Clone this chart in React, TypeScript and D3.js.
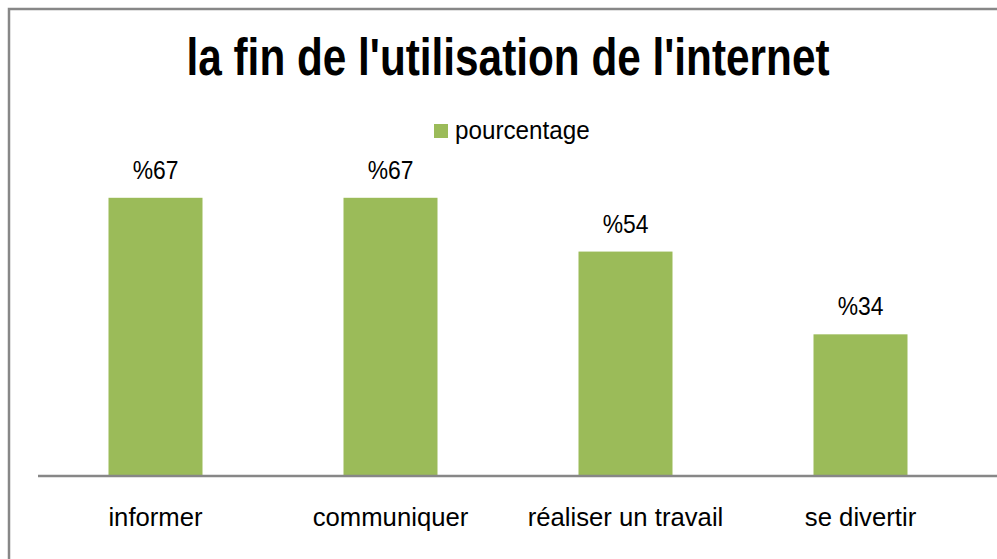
import { useEffect, useRef } from "react";
import * as d3 from "d3";

const categories = ["informer", "communiquer", "réaliser un travail", "se divertir"];
const values = [67, 67, 54, 34];
const valueLabels = ["%67", "%67", "%54", "%34"];
const seriesName = "pourcentage";

const width = 997;
const height = 559;
const green = "#9bbb59";
const font = "'Liberation Sans', Arial, sans-serif";

const App = () => {
  const ref = useRef<SVGSVGElement>(null);

  useEffect(() => {
    document.body.style.margin = "0";
    const svg = d3.select(ref.current);
    svg.selectAll("*").remove();

    // chart frame (runs off the right and bottom edge)
    svg
      .append("rect")
      .attr("x", 9)
      .attr("y", 9)
      .attr("width", width + 20)
      .attr("height", height + 20)
      .attr("fill", "white")
      .attr("stroke", "#878787")
      .attr("stroke-width", 2.5);

    // the original uses a narrow font, so squeeze the text sideways
    svg
      .append("text")
      .attr("x", 508)
      .attr("y", 75)
      .attr("text-anchor", "middle")
      .attr("font-family", font)
      .attr("font-weight", "bold")
      .attr("font-size", 51)
      .attr("textLength", 643)
      .attr("lengthAdjust", "spacingAndGlyphs")
      .text("la fin de l'utilisation de l'internet");

    // legend
    const legend = svg.append("g").attr("transform", "translate(434,124)");
    legend.append("rect").attr("width", 14).attr("height", 14).attr("fill", green);
    legend
      .append("text")
      .attr("transform", "translate(21,15) scale(0.97,1)")
      .attr("font-family", font)
      .attr("font-size", 25)
      .text(seriesName);

    const x = d3
      .scaleBand<string>()
      .domain(categories)
      .range([38, 978])
      .paddingInner(0.6)
      .paddingOuter(0.3);
    const y = d3.scaleLinear().domain([0, 80]).range([475, 144]);

    svg
      .append("g")
      .selectAll("rect")
      .data(values)
      .join("rect")
      .attr("x", (_, i) => x(categories[i])!)
      .attr("y", (d) => y(d))
      .attr("width", x.bandwidth())
      .attr("height", (d) => y(0) - y(d))
      .attr("fill", green);

    svg
      .append("g")
      .selectAll("text")
      .data(valueLabels)
      .join("text")
      .attr(
        "transform",
        (_, i) =>
          `translate(${x(categories[i])! + x.bandwidth() / 2},${y(values[i]) - 19}) scale(0.88,1)`
      )
      .attr("text-anchor", "middle")
      .attr("font-family", font)
      .attr("font-size", 26)
      .text((d) => d);

    svg
      .append("line")
      .attr("x1", 38)
      .attr("x2", width)
      .attr("y1", y(0) + 1)
      .attr("y2", y(0) + 1)
      .attr("stroke", "#878787")
      .attr("stroke-width", 2.5);

    svg
      .append("g")
      .selectAll("text")
      .data(categories)
      .join("text")
      .attr("transform", (d) => `translate(${x(d)! + x.bandwidth() / 2},526) scale(0.97,1)`)
      .attr("text-anchor", "middle")
      .attr("font-family", font)
      .attr("font-size", 26.5)
      .text((d) => d);
  }, []);

  return <svg ref={ref} width={width} height={height} style={{ display: "block" }} />;
};

export default App;
